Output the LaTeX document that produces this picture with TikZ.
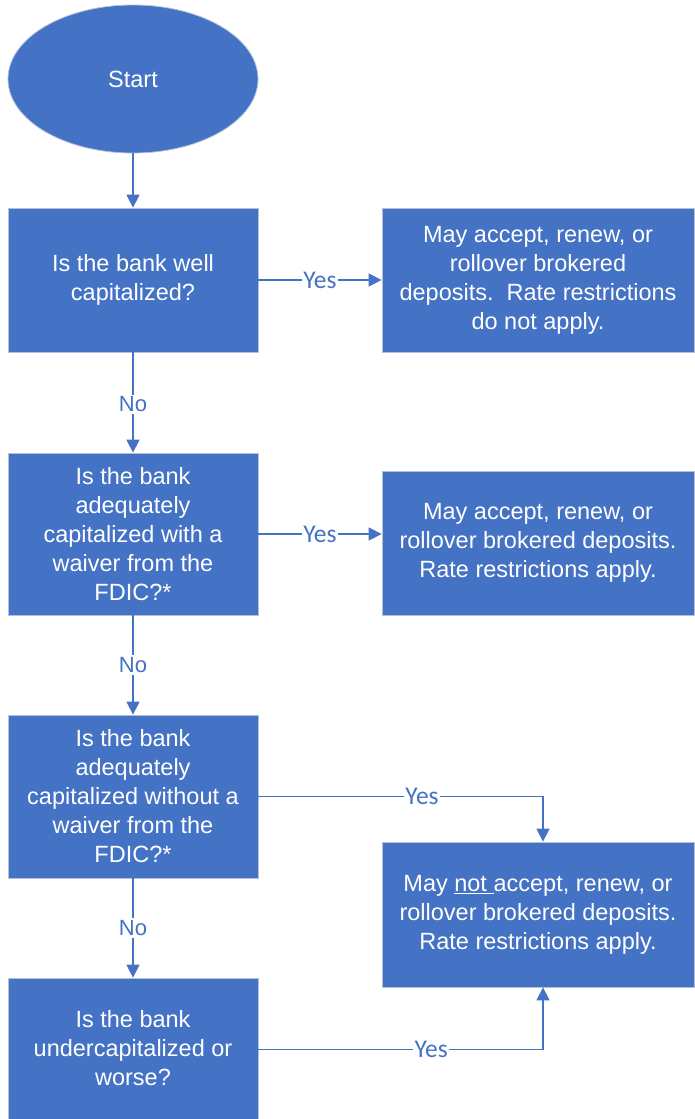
\documentclass[tikz,border=0pt]{standalone}
\usepackage{fontspec}
\setmainfont{Liberation Sans}
\newfontfamily\yesfont{Carlito}
\usetikzlibrary{shapes.geometric,arrows.meta}
\definecolor{fcblue}{HTML}{4472C4}
\definecolor{fcedge}{HTML}{B4C0D8}
\tikzset{
  fcbox/.style={rectangle, fill=fcblue, draw=fcedge, line width=0.8pt, text=white,
    align=center, inner sep=0pt, font=\fontsize{23.5}{29}\selectfont},
  fcstart/.style={ellipse, fill=fcblue, draw=fcedge, line width=0.8pt, text=white,
    inner sep=0pt, minimum width=250, minimum height=148, font=\fontsize{23.5}{29}\selectfont},
  arr/.style={draw=fcblue, line width=1.5pt, -{Triangle[length=13pt,width=13pt]}},
  yeslab/.style={fill=white, text=fcblue, inner sep=1.5pt, font=\yesfont\fontsize{25.5}{28}\selectfont},
  nolab/.style={fill=white, text=fcblue, inner sep=2pt, font=\fontsize{22}{26}\selectfont}
}
\begin{document}
\begin{tikzpicture}[x=1pt,y=-1pt]
\useasboundingbox (0,0) rectangle (694,1119);
\node[fcstart] (start) at (133,79) {Start};
\node[fcbox, minimum width=250, minimum height=144] (q1) at (133,280) {Is the bank well\\capitalized?};
\node[fcbox, minimum width=312, minimum height=144] (r1) at (538,280) {May accept, renew, or\\rollover brokered\\deposits.\ \ Rate restrictions\\do not apply.};
\node[fcbox, minimum width=250, minimum height=162] (q2) at (133,534) {Is the bank\\adequately\\capitalized with a\\waiver from the\\FDIC?*};
\node[fcbox, minimum width=312, minimum height=144] (r2) at (538,543) {May accept, renew, or\\rollover brokered deposits.\\Rate restrictions apply.};
\node[fcbox, minimum width=250, minimum height=163] (q3) at (133,796.5) {Is the bank\\adequately\\capitalized without a\\waiver from the\\FDIC?*};
\node[fcbox, minimum width=312, minimum height=145] (r3) at (538,914.5) {May \underline{not\ }accept, renew, or\\rollover brokered deposits.\\Rate restrictions apply.};
\node[fcbox, minimum width=250, minimum height=141] (q4) at (133,1048.5) {Is the bank\\undercapitalized or\\worse?};
\coordinate (c3) at (543,796.5);
\coordinate (c4) at (543,1049.5);
\draw[arr] (start) -- (q1);
\draw[arr] (q1) -- node[nolab, yshift=-2pt] {No} (q2);
\draw[arr] (q2) -- node[nolab] {No} (q3);
\draw[arr] (q3) -- node[nolab] {No} (q4);
\draw[arr] (q1) -- node[yeslab] {Yes} (r1);
\draw[arr] (q2.east |- 0,534) -- node[yeslab] {Yes} (r2.west |- 0,534);
\draw[arr] (q3.east) -- node[yeslab, pos=0.575] {Yes} (c3) -- (c3 |- r3.north);
\draw[arr] (q4.east |- c4) -- node[yeslab, pos=0.607] {Yes} (c4) -- (c4 |- r3.south);
\end{tikzpicture}
\end{document}
